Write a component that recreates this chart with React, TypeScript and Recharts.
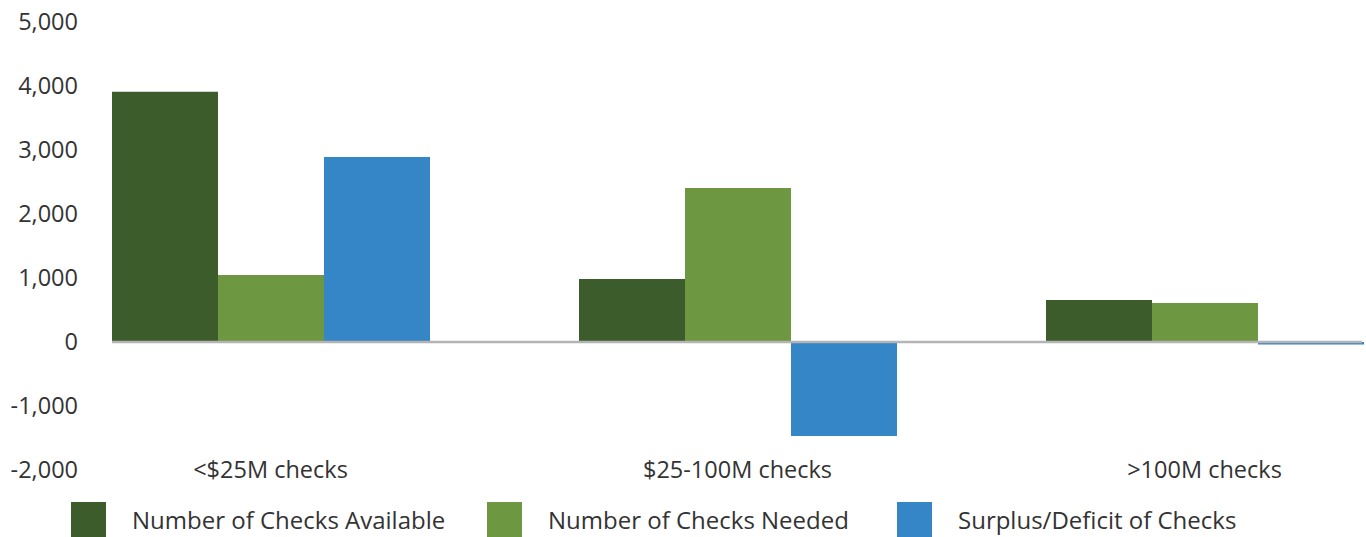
import { BarChart, Bar, XAxis, YAxis, ReferenceLine, Legend } from "recharts";

if (typeof document !== "undefined") document.body.style.margin = "0";

const categories = ["<$25M checks", "$25-100M checks", ">100M checks"];
const available = [3910, 985, 655];
const needed = [1045, 2405, 610];
const surplus = [2890, -1470, -40];
const yTicks = [-2000, -1000, 0, 1000, 2000, 3000, 4000, 5000];

const series = [
  { key: "available", name: "Number of Checks Available", color: "#3c5c2b" },
  { key: "needed", name: "Number of Checks Needed", color: "#6e9741" },
  { key: "surplus", name: "Surplus/Deficit of Checks", color: "#3586c6" },
];

const data = categories.map((c, i) => ({
  cat: c,
  available: available[i],
  needed: needed[i],
  surplus: surplus[i],
}));

const FONT = "'Open Sans', sans-serif";
const TEXT = "#333333";
const legendLeft = [71, 487, 897];

const CatTick = ({ x, payload }: any) => (
  <text x={x} y={470} dy="0.35em" textAnchor="middle" fontSize={23.5} fill={TEXT} fontFamily={FONT}>
    {payload.value}
  </text>
);

const LegendBox = () => (
  <div style={{ position: "relative", fontFamily: FONT, height: 35 }}>
    {series.map((s, i) => (
      <div
        key={s.key}
        style={{ position: "absolute", left: legendLeft[i], top: 0, height: 35, display: "flex", alignItems: "center" }}
      >
        <span style={{ width: 35, height: 35, background: s.color, display: "inline-block" }} />
        <span style={{ marginLeft: 26, fontSize: 24, color: TEXT, whiteSpace: "nowrap" }}>{s.name}</span>
      </div>
    ))}
  </div>
);

export default function App() {
  return (
    <div style={{ width: 1366, height: 537, position: "relative", overflow: "hidden" }}>
      <BarChart
        width={1366}
        height={537}
        data={data}
        margin={{ top: 22, right: 4, bottom: 31, left: 0 }}
        barGap={0}
        barCategoryGap={75}
      >
        <XAxis
          dataKey="cat"
          axisLine={false}
          tickLine={false}
          height={1}
          padding={{ left: -75, right: -76 }}
          tick={<CatTick />}
          interval={0}
        />
        <YAxis
          domain={[-2000, 5000]}
          ticks={yTicks}
          width={112}
          axisLine={false}
          tickLine={false}
          tickSize={0}
          tickMargin={34}
          tickFormatter={(v: number) => v.toLocaleString("en-US")}
          tick={{ fontSize: 23.5, fill: TEXT, fontFamily: FONT }}
          interval={0}
        />
        {series.map((s) => (
          <Bar key={s.key} dataKey={s.key} name={s.name} fill={s.color} isAnimationActive={false} />
        ))}
        <ReferenceLine y={0} stroke="#b4b4b4" strokeWidth={2.5} />
        <Legend
          content={<LegendBox />}
          wrapperStyle={{ position: "absolute", left: 0, top: 502, width: 1366, height: 35 }}
        />
      </BarChart>
    </div>
  );
}
